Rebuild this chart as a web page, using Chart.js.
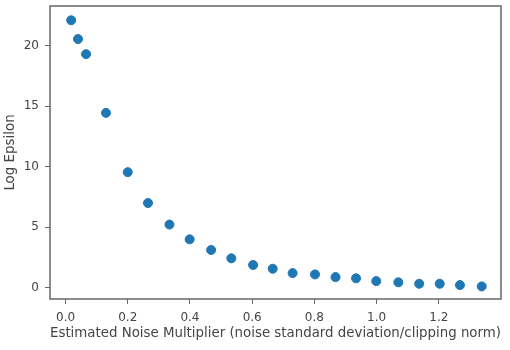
<!DOCTYPE html>
<html>
<head>
<meta charset="utf-8">
<script src="https://cdn.jsdelivr.net/npm/chart.js@4"></script>
<style>
  html, body { margin: 0; padding: 0; background: #fff; }
  #wrap { width: 510px; height: 350px; }
</style>
</head>
<body>
<div id="wrap"><canvas id="epsChart" width="510" height="350"></canvas></div>
<script>
// ---------------- DATA ----------------

const noiseMultiplier = [0.018, 0.040, 0.066, 0.130, 0.200, 0.265, 0.334, 0.399, 0.468, 0.533, 0.603,
    0.666, 0.730, 0.802, 0.868, 0.934, 0.999, 1.070, 1.137, 1.203, 1.268, 1.338];
const logEpsilon = [22.1, 20.55, 19.3, 14.45, 9.55, 7.0, 5.22, 4.0, 3.12, 2.43, 1.88,
    1.57, 1.21, 1.1, 0.88, 0.78, 0.55, 0.45, 0.33, 0.33, 0.22, 0.11];

const xTicks = [0.0, 0.2, 0.4, 0.6, 0.8, 1.0, 1.2];
const yTicks = [0, 5, 10, 15, 20];

const textColor = "#444";
const spineColor = "#666";

// ---------------- CHART ----------------

// box round the plot area (matplotlib spines)
const frame = {
    id: "frame",
    afterDraw(chart) {
        const a = chart.chartArea;
        const ctx = chart.ctx;
        ctx.save();
        ctx.strokeStyle = spineColor;
        ctx.lineWidth = 1.5;
        ctx.strokeRect(a.left, a.top, a.right - a.left, a.bottom - a.top);
        ctx.restore();
    }
};

const points = noiseMultiplier.map((x, i) => ({ x: x, y: logEpsilon[i] }));

new Chart(document.getElementById("epsChart"), {
    type: "scatter",
    data: {
        datasets: [
            {
                data: points,
                backgroundColor: "#1f77b4",
                borderColor: "#1f77b4",
                pointRadius: 4.5,
                pointHoverRadius: 4.5
            }
        ]
    },
    options: {
        responsive: false,
        animation: false,
        layout: { autoPadding: false, padding: { left: 0, right: 9, top: 6, bottom: 0 } },
        plugins: {
            legend: { display: false },
            tooltip: { enabled: false }
        },
        scales: {
            x: {
                type: "linear",
                min: -0.05,
                max: 1.40,
                afterBuildTicks: s => { s.ticks = xTicks.map(v => ({ value: v })); },
                afterFit: s => { s.height = 51; s.paddingLeft = 0; s.paddingRight = 0; },
                grid: { drawOnChartArea: false, drawTicks: true, tickLength: 5, color: spineColor },
                border: { display: false },
                ticks: {
                    color: textColor,
                    padding: 7,
                    font: { family: "DejaVu Sans", size: 12 },
                    callback: v => v.toFixed(1)
                },
                title: {
                    display: true,
                    text: "Estimated Noise Multiplier (noise standard deviation/clipping norm)",
                    color: textColor,
                    font: { family: "DejaVu Sans", size: 13.4 },
                    padding: { top: 0, bottom: 8 }
                }
            },
            y: {
                type: "linear",
                min: -0.93,
                max: 23.28,
                afterBuildTicks: s => { s.ticks = yTicks.map(v => ({ value: v })); },
                afterFit: s => { s.width = 50; s.paddingTop = 0; s.paddingBottom = 0; },
                grid: { drawOnChartArea: false, drawTicks: true, tickLength: 5, color: spineColor },
                border: { display: false },
                ticks: {
                    color: textColor,
                    padding: 6,
                    font: { family: "DejaVu Sans", size: 12 }
                },
                title: {
                    display: true,
                    text: "Log Epsilon",
                    color: textColor,
                    font: { family: "DejaVu Sans", size: 13.4 },
                    padding: { top: 2, bottom: 0 }
                }
            }
        }
    },
    plugins: [frame]
});
</script>
</body>
</html>
